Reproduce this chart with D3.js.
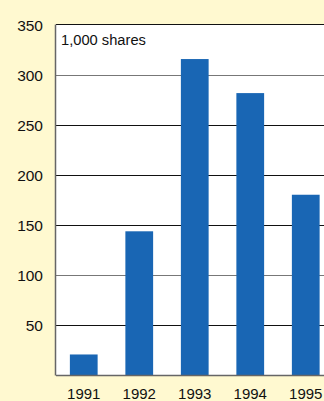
<!DOCTYPE html>
<html><head><meta charset="utf-8">
<script src="https://cdn.jsdelivr.net/npm/d3@7"></script>
<style>
html,body{margin:0;padding:0;background:#fff9d0;}
svg{display:block;}
text{font-family:"Liberation Sans",Arial,sans-serif;fill:#111;}
</style></head><body>
<svg id="c" width="324" height="401"></svg>
<script>
const years = ["1991","1992","1993","1994","1995"];
const shares = [20.5, 143.5, 315.5, 281.5, 180];
const yTicks = [50,100,150,200,250,300,350];
const unitLabel = "1,000 shares";

(function(){
const W=324,H=401;
const svg=d3.select("#c");
const mL=56, mT=24.5, mB=375, mR=333.5;
const x=d3.scaleBand().domain(years).range([mL,mR]).padding(0.5).paddingOuter(0.25);
const y=d3.scaleLinear().domain([0,350]).range([mB,mT]);

svg.append("rect").attr("x",mL).attr("y",mT).attr("width",W-mL).attr("height",mB-mT).attr("fill","#fff");

const gridColors=d=> (d===100||d===300)?"#777":"#111";
svg.append("g").selectAll("line").data(yTicks.filter(d=>d<350)).join("line")
  .attr("x1",mL).attr("x2",W).attr("y1",d=>Math.round(y(d))+0.5).attr("y2",d=>Math.round(y(d))+0.5)
  .attr("stroke",gridColors).attr("stroke-width",1);

svg.append("g").selectAll("rect").data(years).join("rect")
  .attr("x",d=>x(d)).attr("width",x.bandwidth())
  .attr("y",(d,i)=>y(shares[i])).attr("height",(d,i)=>y(0)-y(shares[i]))
  .attr("fill","#1966b4");

svg.append("line").attr("x1",mL).attr("x2",W).attr("y1",mT).attr("y2",mT).attr("stroke","#111").attr("stroke-width",1.2);
svg.append("line").attr("x1",mL-0.5).attr("x2",mL-0.5).attr("y1",mT).attr("y2",mB+0.5).attr("stroke","#666").attr("stroke-width",1.5);
svg.append("line").attr("x1",mL).attr("x2",W).attr("y1",mB+0.5).attr("y2",mB+0.5).attr("stroke","#666").attr("stroke-width",1.5);

const ya=svg.append("g").attr("transform",`translate(${mL},0)`)
  .call(d3.axisLeft(y).tickValues(yTicks).tickSize(0).tickPadding(13));
ya.select(".domain").remove();
ya.selectAll("text").style("font-size","15.5px").style("font-family","Liberation Sans, Arial, sans-serif").attr("fill","#111").attr("dy","0.36em");

const xa=svg.append("g").attr("transform",`translate(0,${mB})`)
  .call(d3.axisBottom(x).tickSize(0).tickPadding(0));
xa.select(".domain").remove();
xa.selectAll("text").style("font-size","15px").style("font-family","Liberation Sans, Arial, sans-serif").attr("fill","#111").attr("dy",null).attr("y",24);

svg.append("text").attr("x",61).attr("y",45).style("font-size","14.7px").text(unitLabel);
})();
</script></body></html>
